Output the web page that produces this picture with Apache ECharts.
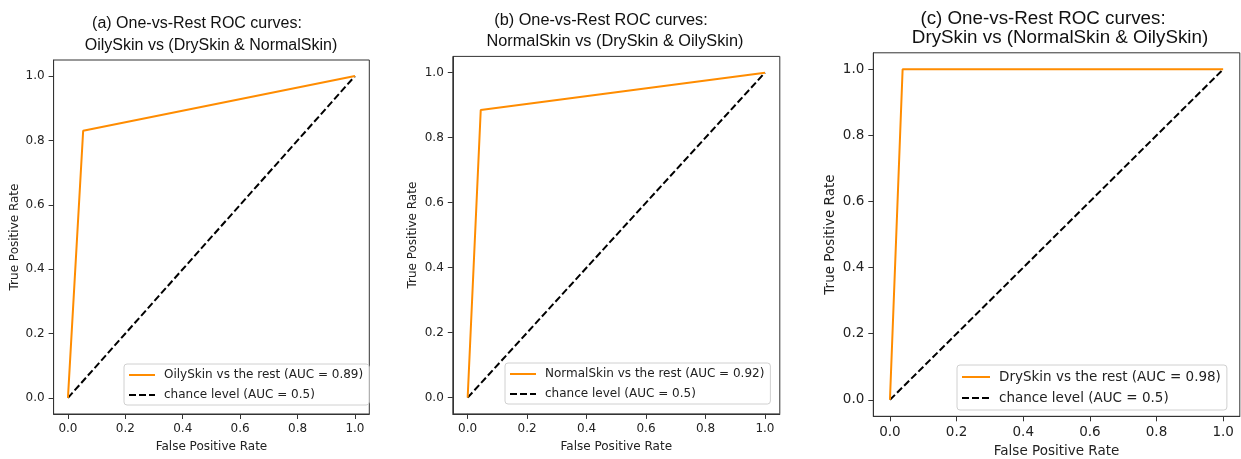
<!DOCTYPE html>
<html>
<head>
<meta charset="utf-8">
<script src="https://cdn.jsdelivr.net/npm/echarts@6/dist/echarts.min.js"></script>
<style>
html,body{margin:0;padding:0;background:#fff;}
#chart{width:1241px;height:459px;}
</style>
</head>
<body>
<div id="chart"></div>
<script>
// ---- Data ----
const panelLetters = ['(a)', '(b)', '(c)'];
const titleLine1 = ['One-vs-Rest ROC curves:', 'One-vs-Rest ROC curves:', 'One-vs-Rest ROC curves:'];
const titleLine2 = ['OilySkin vs (DrySkin & NormalSkin)', 'NormalSkin vs (DrySkin & OilySkin)', 'DrySkin vs (NormalSkin & OilySkin)'];
const rocNames = ['OilySkin vs the rest (AUC = 0.89)', 'NormalSkin vs the rest (AUC = 0.92)', 'DrySkin vs the rest (AUC = 0.98)'];
const chanceName = 'chance level (AUC = 0.5)';
const fprOily = [0, 0.053, 1];
const tprOily = [0, 0.83, 1];
const fprNormal = [0, 0.044, 1];
const tprNormal = [0, 0.885, 1];
const fprDry = [0, 0.038, 1];
const tprDry = [0, 1.0, 1];
const fprChance = [0, 1];
const tprChance = [0, 1];
const tickValues = [0, 0.2, 0.4, 0.6, 0.8, 1.0];
const xLabel = 'False Positive Rate';
const yLabel = 'True Positive Rate';

const fprs = [fprOily, fprNormal, fprDry];
const tprs = [tprOily, tprNormal, tprDry];

// ---- Layout ----
const grids = [
  {left: 53.6, top: 60, width: 315.7, height: 354},
  {left: 452.8, top: 56.4, width: 327, height: 357.5},
  {left: 873.3, top: 52.8, width: 366.5, height: 363.5}
];
const fs = [12, 12, 13.5];
const titleFs = [16, 16.3, 18.8];
const t1 = [{x: 197, y: 24}, {x: 601, y: 21}, {x: 1043, y: 19}];
const t2 = [{x: 211, y: 46}, {x: 615, y: 42}, {x: 1060, y: 38}];
const legendPos = [{left: 124, top: 364}, {left: 505, top: 363}, {left: 957, top: 365}];
const xLabY = [447, 447, 451];
const yLabX = [15, 413, 830];

const zip = (a, b) => a.map((v, i) => [v, b[i]]);
const FONT = 'DejaVu Sans';

const option = {
  backgroundColor: '#fff',
  animation: false,
  grid: grids.map(g => ({left: g.left, top: g.top, width: g.width, height: g.height, containLabel: false,
    show: true, borderColor: '#333', borderWidth: 1, backgroundColor: '#fff'})),
  xAxis: grids.map((g, i) => ({
    type: 'value', gridIndex: i, min: -0.05, max: 1.05,
    axisLine: {show: true, onZero: false, lineStyle: {color: '#333', width: 1}},
    axisTick: {show: true, length: 5, customValues: tickValues, lineStyle: {color: '#333'}},
    axisLabel: {customValues: tickValues, margin: 9, color: '#222', fontFamily: FONT, fontSize: fs[i],
      formatter: v => v.toFixed(1)},
    splitLine: {show: false}
  })),
  yAxis: grids.map((g, i) => ({
    type: 'value', gridIndex: i, min: -0.05, max: 1.05,
    axisLine: {show: true, onZero: false, lineStyle: {color: '#333', width: 1}},
    axisTick: {show: true, length: 5, customValues: tickValues, lineStyle: {color: '#333'}},
    axisLabel: {customValues: tickValues, margin: 9, color: '#222', fontFamily: FONT, fontSize: fs[i],
      formatter: v => v.toFixed(1)},
    splitLine: {show: false}
  })),
  legend: grids.map((g, i) => ({
    orient: 'vertical', left: legendPos[i].left, top: legendPos[i].top,
    data: [rocNames[i], chanceName],
    itemWidth: i === 2 ? 28 : 26, itemHeight: 10, itemGap: i === 2 ? 7 : 8,
    padding: i === 2 ? [5, 6, 5, 4] : [5, 6, 4, 4],
    borderColor: '#d0d0d0', borderWidth: 1, borderRadius: 3,
    backgroundColor: 'rgba(255,255,255,0.8)',
    selectedMode: false,
    itemStyle: {color: 'rgba(0,0,0,0)', borderColor: 'rgba(0,0,0,0)', borderWidth: 0, opacity: 0},
    textStyle: {fontFamily: FONT, fontSize: fs[i], color: '#222', padding: [0, 0, 0, 4]}
  })),
  series: [],
  graphic: []
};

for (let i = 0; i < 3; i++) {
  option.series.push({
    type: 'line', name: rocNames[i], xAxisIndex: i, yAxisIndex: i,
    data: zip(fprs[i], tprs[i]), symbol: 'none', showSymbol: false,
    lineStyle: {color: '#ff8c00', width: 2}, itemStyle: {color: '#ff8c00'}, z: 3
  });
  option.series.push({
    type: 'line', name: chanceName, xAxisIndex: i, yAxisIndex: i,
    data: zip(fprChance, tprChance), symbol: 'none', showSymbol: false,
    lineStyle: {color: '#000', width: 2, type: [7, 3]}, itemStyle: {color: '#000'}, z: 2
  });
  option.graphic.push({
    type: 'text', x: t1[i].x, y: t1[i].y,
    style: {text: panelLetters[i] + ' ' + titleLine1[i], textAlign: 'center', textVerticalAlign: 'middle',
      fontFamily: 'Liberation Sans', fontSize: titleFs[i], fill: '#111'}
  });
  option.graphic.push({
    type: 'text', x: t2[i].x, y: t2[i].y,
    style: {text: titleLine2[i], textAlign: 'center', textVerticalAlign: 'middle',
      fontFamily: 'Liberation Sans', fontSize: titleFs[i], fill: '#111'}
  });
  option.graphic.push({
    type: 'text', x: grids[i].left + grids[i].width / 2, y: xLabY[i],
    style: {text: xLabel, textAlign: 'center', textVerticalAlign: 'middle',
      fontFamily: FONT, fontSize: fs[i], fill: '#222'}
  });
  option.graphic.push({
    type: 'text', x: yLabX[i], y: grids[i].top + grids[i].height / 2, rotation: Math.PI / 2,
    style: {text: yLabel, textAlign: 'center', textVerticalAlign: 'middle',
      fontFamily: FONT, fontSize: fs[i], fill: '#222'}
  });
}

const chart = echarts.init(document.getElementById('chart'), null, {renderer: 'canvas'});
chart.setOption(option);
</script>
</body>
</html>
